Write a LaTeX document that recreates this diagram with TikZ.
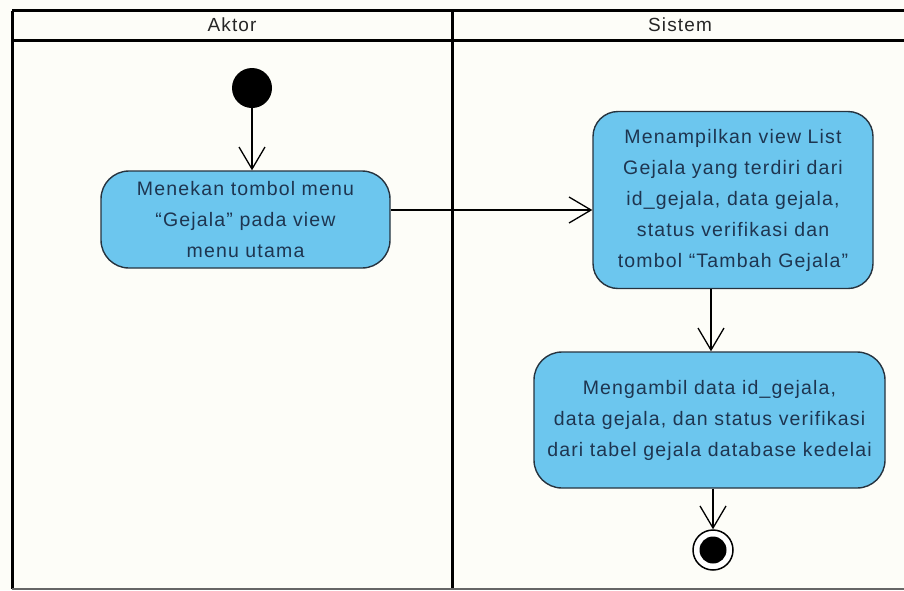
\documentclass[tikz,border=0pt]{standalone}
\usepackage{fontspec}
\setmainfont{Liberation Sans}[LetterSpace=6]
\usetikzlibrary{arrows.meta}
\definecolor{actfill}{HTML}{6CC6EE}
\definecolor{actline}{HTML}{26333F}
\definecolor{acttext}{HTML}{1E3550}
\definecolor{paper}{HTML}{FDFDF8}
\tikzset{
  lane/.style={line width=3pt, black},
  action/.style={draw=actline, fill=actfill, line width=1.4pt, rounded corners=28pt,
    align=center, text=acttext, inner sep=0pt,
    font=\fontsize{19.5}{31}\selectfont},
  flow/.style={line width=1.3pt, black, -{Straight Barb[length=22pt,width=26pt,line width=1.3pt]}},
  lanetitle/.style={font=\fontsize{19}{22}\selectfont, text=black!85}
}
\begin{document}
\begin{tikzpicture}[x=1pt,y=-1pt]
  \useasboundingbox (0,0) rectangle (904,590);
  \fill[paper] (0,0) rectangle (904,590);

  % swimlane frame
  \begin{scope}
    \clip (0,0) rectangle (904,590);
    \draw[lane] (12,10.5) -- (912,10.5);
    \draw[lane] (12,40) -- (912,40);
    \draw[lane] (12,10.5) -- (12,589);
    \draw[lane] (452.5,10.5) -- (452.5,589);
    \draw[line width=2pt, black!60] (12,589) -- (912,589);
  \end{scope}
  \node[lanetitle] (aktor) at (232,25) {Aktor};
  \node[lanetitle] (sistem) at (680,25) {Sistem};

  % initial and final nodes
  \node[circle, fill=black, minimum size=40pt, inner sep=0pt] (start) at (252,88) {};
  \node[circle, draw=black, line width=1.5pt, fill=white, minimum size=40pt, inner sep=0pt] (finish) at (713,550) {};
  \node[circle, fill=black, minimum size=27pt, inner sep=0pt] (finishdot) at (finish) {};

  % actions
  \node[action, minimum width=289pt, minimum height=97pt] (menu) at (245.5,219.5)
    {Menekan tombol menu\\“Gejala” pada view\\menu utama};
  \node[action, rounded corners=25pt, minimum width=280pt, minimum height=177pt] (tampil) at (733,200)
    {Menampilkan view List\\Gejala yang terdiri dari\\id\_gejala, data gejala,\\status verifikasi dan\\tombol “Tambah Gejala”};
  \node[action, minimum width=351pt, minimum height=136pt] (ambil) at (709.5,420)
    {Mengambil data id\_gejala,\\data gejala, dan status verifikasi\\dari tabel gejala database kedelai};

  % control flows
  \coordinate (rowy) at (0,210);
  \coordinate (colx) at (711,0);
  \draw[flow] (start) -- (start |- menu.north);
  \draw[flow] (menu.east |- rowy) -- (tampil.west |- rowy);
  \draw[flow] (tampil.south -| colx) -- (ambil.north -| colx);
  \draw[flow] (finish |- ambil.south) -- (finish.north);
\end{tikzpicture}
\end{document}
